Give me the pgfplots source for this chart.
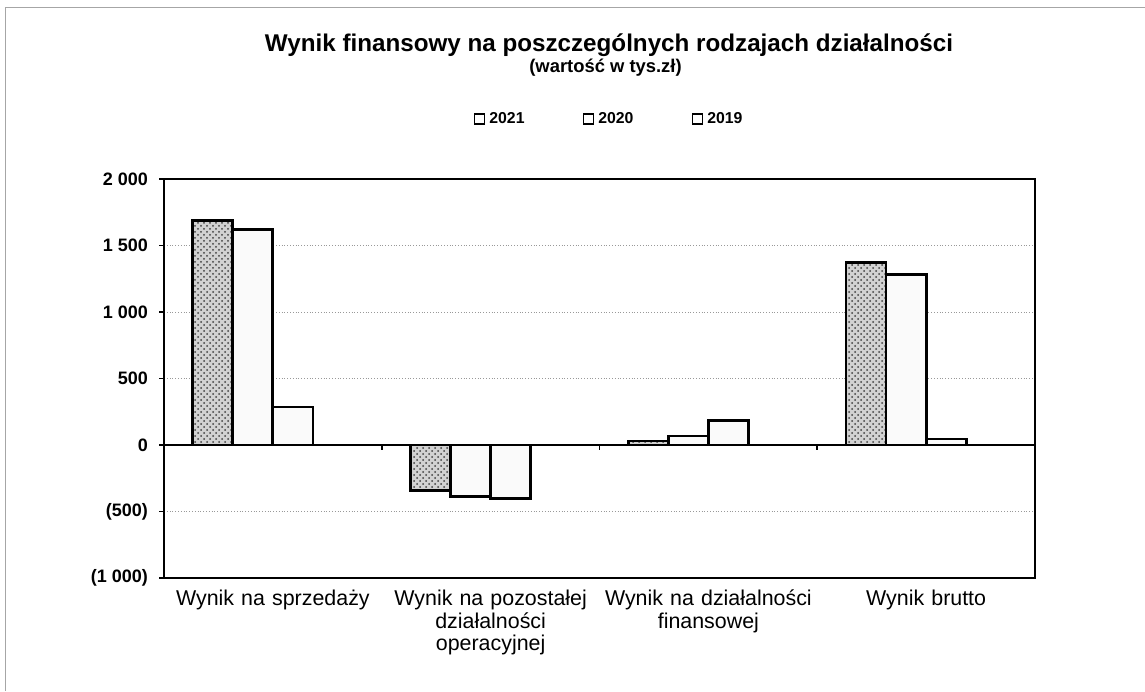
\documentclass[border=0pt]{standalone}
\usepackage{fontspec}
\setmainfont{Liberation Sans}
\usepackage{pgfplots}
\pgfplotsset{compat=1.18}
\usetikzlibrary{patterns}

\begin{document}
\begin{tikzpicture}
\useasboundingbox (0,0) rectangle (572.5pt,345.5pt);
% scanned page frame
\draw[gray!70, line width=0.5pt] (2.5pt,0) -- (2.5pt,341.5pt) -- (572.5pt,341.5pt);

\node[anchor=base, font=\bfseries\fontsize{12.1}{14}\selectfont] at (304.5pt,319.5pt)
  {Wynik finansowy na poszczególnych rodzajach działalności};
\node[anchor=base, font=\bfseries\fontsize{9.2}{11}\selectfont] at (302.75pt,309pt)
  {(wartość w tys.zł)};

\begin{axis}[
  at={(82pt,56.5pt)}, anchor=south west,
  scale only axis, width=435.5pt, height=199.5pt,
  xmin=-0.5, xmax=3.5,
  ymin=-1000, ymax=2000,
  ybar, bar width=0.184,
  xtick={0,1,2,3},
  xticklabels={{\vphantom{Ź}Wynik na sprzedaży},
               {\vphantom{Ź}Wynik na pozostałej\\działalności\\operacyjnej},
               {\vphantom{Ź}Wynik na działalności\\finansowej},
               {\vphantom{Ź}Wynik brutto}},
  xticklabel style={font=\fontsize{10.7}{11.3}\selectfont, align=center,
                    text width=115pt, yshift=1.5pt},
  x tick style={draw=none},
  ytick={-1000,-500,0,500,1000,1500,2000},
  yticklabels={{(1 000)},{(500)},0,500,{1 000},{1 500},{2 000}},
  yticklabel style={font=\bfseries\fontsize{9}{10}\selectfont, xshift=-2pt},
  ytick pos=left,
  y tick style={black, line width=0.6pt},
  tick align=outside, major tick length=2.5pt,
  ymajorgrids,
  major grid style={densely dotted, gray!80, line width=0.5pt},
  axis line style={black, line width=0.8pt},
  legend style={at={(0.355,1.150)}, anchor=west, draw=none, fill=none,
                inner sep=0pt, legend columns=3,
                font=\bfseries\fontsize{7.9}{9}\selectfont,
                /tikz/every even column/.append style={column sep=27pt}},
]
\addlegendimage{legend image code/.code={\draw[black,line width=0.9pt,fill=white] (0pt,-2.5pt) rectangle (5pt,2.5pt);}}
\addlegendentry{2021}
\addlegendimage{legend image code/.code={\draw[black,line width=0.9pt,fill=white] (0pt,-2.5pt) rectangle (5pt,2.5pt);}}
\addlegendentry{2020}
\addlegendimage{legend image code/.code={\draw[black,line width=0.9pt,fill=white] (0pt,-2.5pt) rectangle (5pt,2.5pt);}}
\addlegendentry{2019}

% 2021
\addplot[forget plot, bar shift=-0.276, draw=black, line width=1.4pt,
  fill=gray!35, postaction={pattern=crosshatch dots, pattern color=black!75}]
  coordinates {(0,1690) (1,-340) (2,30) (3,1370)};
% 2020
\addplot[forget plot, bar shift=-0.092, draw=black, line width=1.4pt, fill=gray!4]
  coordinates {(0,1620) (1,-385) (2,67) (3,1280)};
% 2019
\addplot[forget plot, bar shift=0.092, draw=black, line width=1.4pt, fill=gray!4]
  coordinates {(0,285) (1,-405) (2,187) (3,45)};

% zero line with category separator ticks
\draw[black, line width=1.2pt] (axis cs:-0.5,0) -- (axis cs:3.5,0);
\pgfplotsinvokeforeach{0.5,1.5,2.5}{
  \draw[black, line width=0.8pt] (axis cs:#1,0) -- ([yshift=-2.5pt]axis cs:#1,0);
}
\end{axis}
\end{tikzpicture}
\end{document}
